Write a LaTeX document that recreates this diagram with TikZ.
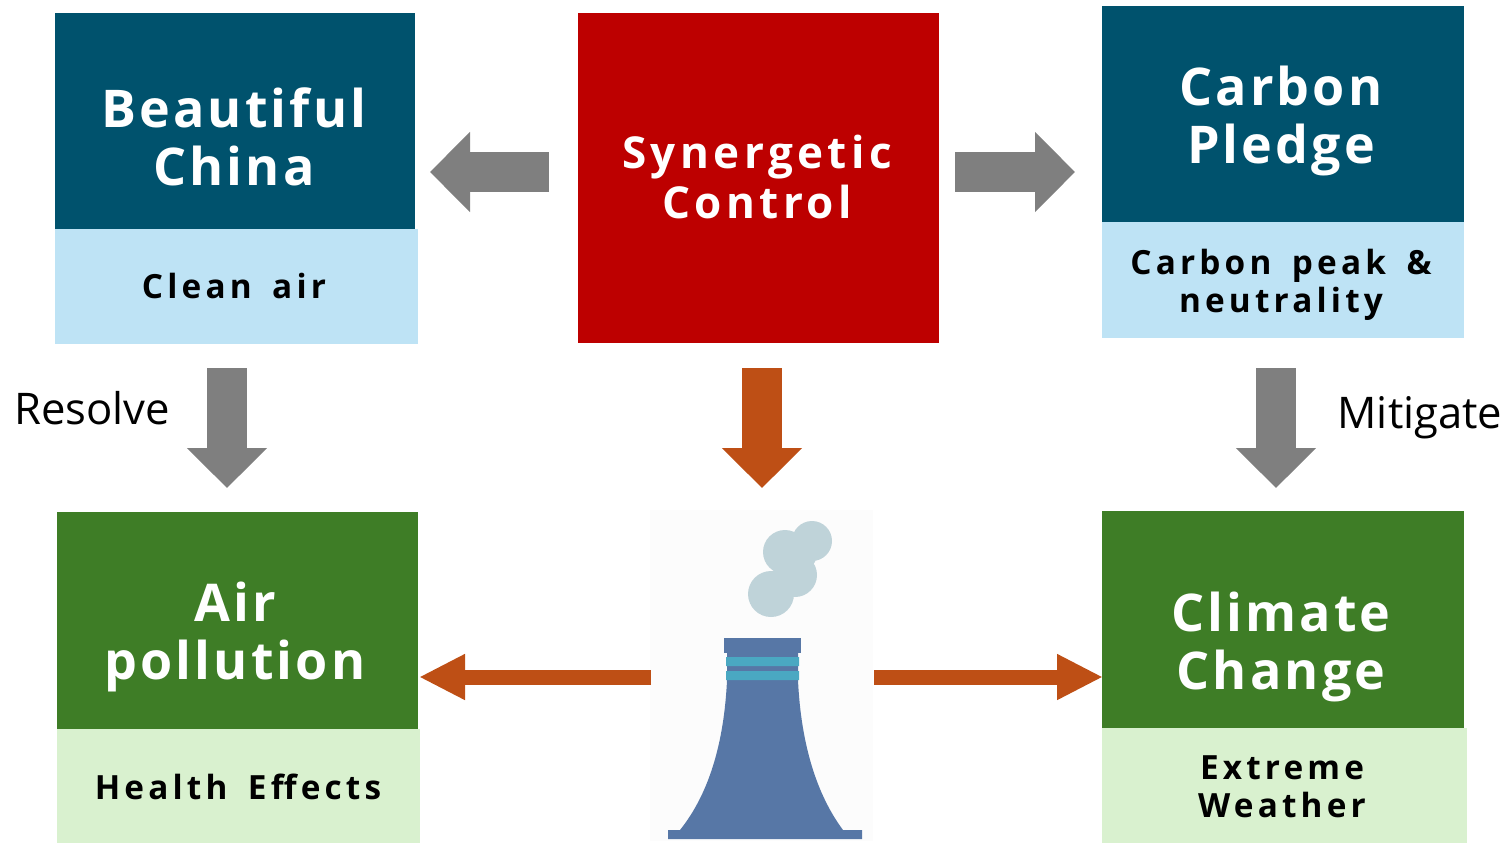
\documentclass[tikz,border=0pt]{standalone}
\usepackage{fontspec}
\usepackage{tikz}
\usepackage{xcolor}
\usetikzlibrary{arrows.meta}
\setmainfont{Open Sans}
\newfontfamily\headfont[LetterSpace=6]{Open Sans}
\newfontfamily\redfont[LetterSpace=10]{Open Sans}
\newfontfamily\subfont[LetterSpace=12.5,WordSpace=1.6]{Open Sans}
\def\px{0.75pt}
\definecolor{deepblue}{HTML}{00526D}
\definecolor{paleblue}{HTML}{BEE3F5}
\definecolor{deepred}{HTML}{BD0000}
\definecolor{deepgreen}{HTML}{3E7D26}
\definecolor{palegreen}{HTML}{D9F1CF}
\definecolor{arrowgrey}{HTML}{7F7F7F}
\definecolor{arroworange}{HTML}{BE4F15}
\definecolor{stackblue}{HTML}{5777A6}
\definecolor{stackteal}{HTML}{4AA8C2}
\definecolor{smokegrey}{HTML}{BFD3D9}
\tikzset{
  block/.style={inner sep=0pt,outer sep=0pt},
  headtext/.style={text=white,align=center,font=\headfont\bfseries\fontsize{39}{43.5}\selectfont},
  redtext/.style={text=white,align=center,font=\redfont\bfseries\fontsize{33}{38}\selectfont},
  subtext/.style={text=black,align=center,font=\subfont\bfseries\fontsize{25}{28.5}\selectfont},
  verbtext/.style={text=black,font=\fontsize{32.7}{38}\selectfont},
  greyarrow/.style={draw=arrowgrey,line width=30pt,-{Triangle[length=30pt,width=58.5pt,fill=arrowgrey]}},
  orangearrow/.style={draw=arroworange,line width=30pt,-{Triangle[length=30pt,width=58.5pt,fill=arroworange]}},
  thinarrow/.style={draw=arroworange,line width=11.25pt,-{Triangle[length=34.5pt,width=32pt,fill=arroworange]}}
}
\begin{document}
\begin{tikzpicture}[x=0.75pt,y=-0.75pt]
  \useasboundingbox (0,0) rectangle (1509,844);

  % Top row of blocks
  \node[block,fill=deepblue,minimum width=360*\px,minimum height=216*\px] (china) at (235,121) {};
  \node[block,fill=paleblue,minimum width=363*\px,minimum height=115*\px] (cleanair) at (236.5,286.5) {};
  \node[block,fill=deepred,minimum width=361*\px,minimum height=330*\px] (control) at (758.5,178) {};
  \node[block,fill=deepblue,minimum width=362*\px,minimum height=216*\px] (pledge) at (1283,114) {};
  \node[block,fill=paleblue,minimum width=362*\px,minimum height=116*\px] (peak) at (1283,280) {};

  % Bottom row of blocks
  \node[block,fill=deepgreen,minimum width=361*\px,minimum height=217*\px] (pollution) at (237.5,620.5) {};
  \node[block,fill=palegreen,minimum width=363*\px,minimum height=114*\px] (health) at (238.5,786) {};
  \node[block,fill=deepgreen,minimum width=362*\px,minimum height=217*\px] (climate) at (1283,619.5) {};
  \node[block,fill=palegreen,minimum width=365*\px,minimum height=115*\px] (weather) at (1284.5,785.5) {};

  % Texts of the blocks
  \node[headtext] (chinatext) at (234,137) {Beautiful\\China};
  \node[subtext] (cleantext) at (234,286) {Clean air};
  \node[redtext] (controltext) at (757,177) {Synergetic\\Control};
  \node[headtext] (pledgetext) at (1281,121) {Carbon\\Pledge};
  \node[subtext] (peaktext) at (1281,285) {Carbon peak \&\\neutrality};
  \node[headtext] (pollutiontext) at (235,637) {Air\\pollution};
  \node[subtext] (healthtext) at (238,787) {Health Effects};
  \node[headtext] (climatetext) at (1281,647) {Climate\\Change};
  \node[subtext] (weathertext) at (1282,786.5) {Extreme\\Weather};

  % Chimney with its smoke
  \node[block,fill=black!1,minimum width=223*\px,minimum height=331*\px] (stack) at (761.5,675.5) {};
  \fill[smokegrey] (771,594) circle (23) (785,552) circle (22) (812,541) circle (20) (795,575) circle (22) (797,553) circle (20);
  \fill[stackblue] (727,653) -- (727,680) .. controls (724,745) and (708,795) .. (680,830)
    -- (668,830) -- (668,839) -- (862,839) -- (862,830) -- (843,830)
    .. controls (817,795) and (801,745) .. (798,680) -- (798,653) -- cycle;
  \fill[stackblue] (724,638) rectangle (801,653);
  \fill[stackteal] (726,657) rectangle (799,666) (726,671) rectangle (799,680);

  % Arrows
  \draw[greyarrow] ([xshift=-29*\px,yshift=6*\px]control.west) -- ([xshift=15*\px,yshift=-51*\px]china.east);
  \draw[greyarrow] ([xshift=16*\px,yshift=6*\px]control.east) -- ([xshift=-27*\px,yshift=-58*\px]pledge.west);
  \draw[greyarrow] ([xshift=-9.5*\px,yshift=-24*\px]cleanair.south) -- ([xshift=-10.5*\px,yshift=24*\px]pollution.north);
  \draw[greyarrow] ([xshift=-7*\px,yshift=-30*\px]peak.south) -- ([xshift=-7*\px,yshift=23*\px]climate.north);
  \draw[orangearrow] ([xshift=3.5*\px,yshift=-25*\px]control.south) -- ([xshift=0.5*\px,yshift=22*\px]stack.north);
  \draw[thinarrow] ([xshift=1*\px,yshift=-1.5*\px]stack.west) -- ([xshift=1*\px,yshift=-56.5*\px]pollution.east);
  \draw[thinarrow] ([xshift=1*\px,yshift=-1.5*\px]stack.east) -- ([xshift=1*\px,yshift=-57.5*\px]climate.west);

  % Verbs beside the arrows
  \node[verbtext] (resolve) at (92,408) {Resolve};
  \node[verbtext] (mitigate) at (1420,418) {Mitigate};
\end{tikzpicture}
\end{document}
